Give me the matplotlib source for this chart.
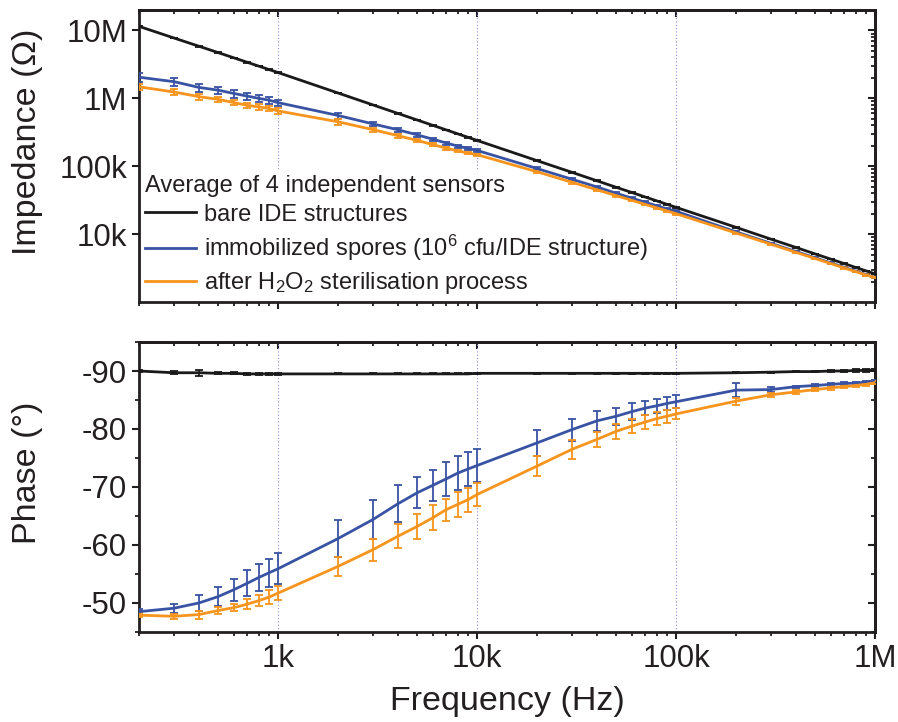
import matplotlib
matplotlib.use("Agg")
import matplotlib.pyplot as plt
import numpy as np
from matplotlib.ticker import FixedLocator, FuncFormatter, NullFormatter, MultipleLocator, LogLocator

OUT_PNG = "out.png"
FIGSIZE = (8.98, 7.22)
DPI = 100

# Frequências (Hz)
freq = [200, 300, 400, 500, 600, 700, 800, 900,
        1e3, 2e3, 3e3, 4e3, 5e3, 6e3, 7e3, 8e3, 9e3,
        1e4, 2e4, 3e4, 4e4, 5e4, 6e4, 7e4, 8e4, 9e4,
        1e5, 2e5, 3e5, 4e5, 5e5, 6e5, 7e5, 8e5, 9e5, 1e6]

# Impedância (Ohm)
z_bare = [11.5e6, 7.74e6, 5.86e6, 4.72e6, 3.95e6, 3.40e6, 2.98e6, 2.66e6,
          2.40e6, 1.20e6, 800e3, 600e3, 480e3, 400e3, 343e3, 300e3, 267e3,
          240e3, 121e3, 81.3e3, 61.1e3, 49e3, 41e3, 35.2e3, 30.9e3, 27.5e3,
          24.8e3, 12.6e3, 8.43e3, 6.37e3, 5.11e3, 4.28e3, 3.68e3, 3.23e3, 2.88e3, 2.6e3]
z_spores = [2.05e6, 1.76e6, 1.45e6, 1.32e6, 1.18e6, 1.08e6, 1.0e6, 940e3,
            865e3, 560e3, 420e3, 345e3, 290e3, 250e3, 220e3, 198e3, 183e3,
            171e3, 92.6e3, 64.3e3, 49.6e3, 40e3, 33.9e3, 29.5e3, 26.1e3, 23.5e3,
            21.7e3, 10.8e3, 7.31e3, 5.55e3, 4.48e3, 3.76e3, 3.24e3, 2.85e3, 2.54e3, 2.3e3]
z_steril = [1.48e6, 1.24e6, 1.06e6, 967e3, 865e3, 791e3, 748e3, 708e3,
            653e3, 452e3, 346e3, 282e3, 240e3, 208e3, 185e3, 168e3, 157e3,
            148e3, 83e3, 58e3, 45e3, 36.9e3, 31.4e3, 27.4e3, 24.4e3, 22e3,
            20e3, 10.4e3, 7.1e3, 5.4e3, 4.37e3, 3.68e3, 3.17e3, 2.8e3, 2.5e3, 2.3e3]

# Erro relativo da impedância (%)
zerr_bare = [1] * 36
zerr_spores = [15, 13, 14, 13, 13, 12, 12, 11,
               11, 10, 8, 7, 6, 6, 5, 5, 5,
               5, 5, 4, 4, 4, 3, 3, 3, 3,
               3, 3, 2, 2, 2, 2, 2, 2, 2, 2]
zerr_steril = [10, 10, 10, 10, 9, 9, 9, 9,
               9, 9, 7, 6, 5, 5, 5, 5, 4,
               4, 4, 4, 3, 3, 3, 3, 3, 3,
               3, 3, 2, 2, 2, 2, 2, 2, 2, 2]

# Fase (graus)
ph_bare = [-90.0, -89.7, -89.7, -89.6, -89.6, -89.5, -89.5, -89.5,
           -89.5, -89.5, -89.5, -89.5, -89.5, -89.5, -89.5, -89.5, -89.5,
           -89.6, -89.6, -89.6, -89.6, -89.6, -89.6, -89.6, -89.6, -89.6,
           -89.6, -89.7, -89.8, -89.9, -89.9, -90.0, -90.0, -90.1, -90.1, -90.2]
ph_spores = [-48.5, -49.1, -50.0, -51.1, -52.3, -53.4, -54.4, -55.2,
             -55.9, -61.1, -64.4, -67.1, -69.0, -70.3, -71.4, -72.4, -73.1,
             -73.7, -77.6, -79.9, -81.4, -82.2, -83.0, -83.6, -84.0, -84.4,
             -84.7, -86.7, -86.8, -87.3, -87.5, -87.7, -87.85, -87.9, -88.1, -88.3]
ph_steril = [-47.9, -47.7, -48.0, -48.7, -49.2, -49.8, -50.4, -51.0,
             -51.7, -56.3, -59.2, -61.5, -63.2, -64.7, -66.1, -67.0, -67.8,
             -68.7, -73.6, -76.5, -78.2, -79.6, -80.5, -81.2, -81.8, -82.2,
             -82.6, -84.8, -85.9, -86.4, -86.8, -87.1, -87.3, -87.5, -87.7, -88.0]

pherr_bare = [0.1, 0.3, 0.5, 0.2, 0.2, 0.2, 0.2, 0.2,
              0.2, 0.1, 0.1, 0.1, 0.1, 0.1, 0.1, 0.1, 0.1,
              0.1, 0.1, 0.1, 0.1, 0.1, 0.1, 0.1, 0.1, 0.1,
              0.1, 0.1, 0.1, 0.1, 0.1, 0.1, 0.1, 0.2, 0.2, 0.2]
pherr_spores = [0.5, 0.8, 1.4, 1.7, 1.9, 2.2, 2.3, 2.4,
                2.7, 3.2, 3.3, 3.2, 2.7, 2.7, 2.9, 3.0, 2.9,
                2.85, 2.2, 1.9, 1.7, 1.5, 1.4, 1.25, 1.2, 1.2,
                1.1, 1.2, 0.4, 0.2, 0.2, 0.2, 0.2, 0.2, 0.2, 0.2]
pherr_steril = [0.3, 0.4, 0.7, 0.6, 0.65, 0.8, 1.0, 1.2,
                1.25, 1.7, 1.9, 2.1, 2.1, 2.2, 1.9, 2.1, 2.1,
                2.0, 1.7, 1.6, 1.35, 1.3, 1.2, 1.15, 1.15, 1.1,
                0.95, 0.6, 0.3, 0.3, 0.3, 0.3, 0.3, 0.3, 0.3, 0.3]

COL_BARE = "#1a1a1a"
COL_SPORES = "#3953a4"
COL_STERIL = "#f7941d"
GRID_COL = "#8c8cdc"
TXT = "#231f20"
TICK_FS = 22.5
LABEL_FS = 24.5
LEG_FS = 17


def fmt_freq(v, pos=None):
    labels = {1e3: "1k", 1e4: "10k", 1e5: "100k", 1e6: "1M", 1e7: "10M"}
    for k, s in labels.items():
        if np.isclose(v, k):
            return s
    return ""


def style_axis(ax, yminor):
    for sp in ax.spines.values():
        sp.set_linewidth(2.0)
        sp.set_color(TXT)
    ax.set_axisbelow(True)
    ax.tick_params(which="major", direction="out", length=5, width=1.5,
                   labelsize=TICK_FS, colors=TXT, top=False, right=False)
    ax.tick_params(which="minor", direction="out", length=3, width=1.3,
                   top=False, right=False, colors=TXT)
    ax.set_xscale("log")
    ax.set_xlim(200, 1e6)
    ax.xaxis.set_major_locator(FixedLocator([1e3, 1e4, 1e5, 1e6]))
    ax.xaxis.set_minor_locator(LogLocator(base=10, subs=np.arange(2, 10)))
    ax.xaxis.set_minor_formatter(NullFormatter())
    ax.grid(axis="x", which="major", color=GRID_COL, linestyle=(0, (1, 2)), linewidth=0.8)

    # eixos espelhados (topo e direita) com ticks para dentro
    secx = ax.secondary_xaxis("top")
    secx.xaxis.set_major_locator(FixedLocator([1e3, 1e4, 1e5, 1e6]))
    secx.xaxis.set_minor_locator(LogLocator(base=10, subs=np.arange(2, 10)))
    secx.xaxis.set_major_formatter(NullFormatter())
    secx.xaxis.set_minor_formatter(NullFormatter())
    secx.tick_params(which="major", direction="in", length=5, width=1.5, colors=TXT)
    secx.tick_params(which="minor", direction="in", length=3, width=1.3, colors=TXT)
    secx.spines["top"].set_linewidth(2.0)

    secy = ax.secondary_yaxis("right")
    secy.yaxis.set_major_locator(ax.yaxis.get_major_locator())
    secy.yaxis.set_minor_locator(yminor)
    secy.yaxis.set_major_formatter(NullFormatter())
    secy.yaxis.set_minor_formatter(NullFormatter())
    secy.tick_params(which="major", direction="in", length=5, width=1.5, colors=TXT)
    secy.tick_params(which="minor", direction="in", length=3, width=1.3, colors=TXT)
    secy.spines["right"].set_linewidth(2.0)


def main():
    plt.rcParams["font.family"] = ["Liberation Sans", "DejaVu Sans"]
    plt.rcParams["mathtext.fontset"] = "custom"
    plt.rcParams["mathtext.rm"] = "Liberation Sans"
    plt.rcParams["mathtext.it"] = "Liberation Sans"
    plt.rcParams["axes.unicode_minus"] = False

    f = np.array(freq)
    fig = plt.figure(figsize=FIGSIZE, dpi=DPI)
    ax1 = fig.add_axes([0.1548, 0.5817, 0.8196, 0.4044])
    ax2 = fig.add_axes([0.1548, 0.1247, 0.8196, 0.4016])

    ekw = dict(linewidth=2.0, elinewidth=1.3, capsize=3, capthick=1.3, zorder=3)

    # --- Impedância ---
    series_z = [
        (z_bare, zerr_bare, COL_BARE, "bare IDE structures"),
        (z_spores, zerr_spores, COL_SPORES, r"immobilized spores (10$^{6}$ cfu/IDE structure)"),
        (z_steril, zerr_steril, COL_STERIL, r"after H$_{2}$O$_{2}$ sterilisation process"),
    ]
    for vals, err, col, lab in series_z:
        v = np.array(vals)
        e = v * np.array(err) / 100.0
        ax1.errorbar(f, v, yerr=e, color=col, ecolor=col, label=lab, **ekw)

    ax1.set_yscale("log")
    ax1.set_ylim(1e3, 2e7)
    ax1.yaxis.set_major_locator(FixedLocator([1e4, 1e5, 1e6, 1e7]))
    ax1.yaxis.set_major_formatter(FuncFormatter(fmt_freq))
    ax1.yaxis.set_minor_locator(LogLocator(base=10, subs=np.arange(2, 10)))
    ax1.yaxis.set_minor_formatter(NullFormatter())
    style_axis(ax1, LogLocator(base=10, subs=np.arange(2, 10)))
    ax1.tick_params(axis="x", labelbottom=False)
    ax1.set_ylabel("Impedance (\u03a9)", fontsize=LABEL_FS, color=TXT)
    ax1.yaxis.set_label_coords(-0.130, 0.55)

    handles, labels = ax1.get_legend_handles_labels()
    handles = [h[0] for h in handles]
    leg = ax1.legend(handles, labels, loc="lower left", bbox_to_anchor=(0.0, 0.0),
                     title="Average of 4 independent sensors", title_fontsize=LEG_FS,
                     fontsize=LEG_FS, frameon=True, facecolor="white", edgecolor="none",
                     framealpha=1, fancybox=False, borderaxespad=0.1,
                     borderpad=0.15, handlelength=2.15, handletextpad=0.35,
                     labelspacing=0.3, alignment="left")
    leg.set_zorder(2)
    for t in leg.get_texts():
        t.set_color(TXT)
    leg.get_title().set_color(TXT)

    # --- Fase ---
    series_ph = [
        (ph_bare, pherr_bare, COL_BARE),
        (ph_spores, pherr_spores, COL_SPORES),
        (ph_steril, pherr_steril, COL_STERIL),
    ]
    for vals, err, col in series_ph:
        ax2.errorbar(f, vals, yerr=err, color=col, ecolor=col, **ekw)

    ax2.set_ylim(-45, -95)
    ax2.yaxis.set_major_locator(FixedLocator([-90, -80, -70, -60, -50]))
    ax2.yaxis.set_minor_locator(MultipleLocator(5))
    style_axis(ax2, MultipleLocator(5))
    ax2.xaxis.set_major_formatter(FuncFormatter(fmt_freq))
    ax2.set_ylabel("Phase (\u00b0)", fontsize=LABEL_FS, color=TXT)
    ax2.yaxis.set_label_coords(-0.130, 0.55)
    ax2.set_xlabel("Frequency (Hz)", fontsize=LABEL_FS, color=TXT)
    ax2.xaxis.set_label_coords(0.5, -0.186)

    fig.savefig(OUT_PNG, dpi=DPI)


if __name__ == "__main__":
    main()
